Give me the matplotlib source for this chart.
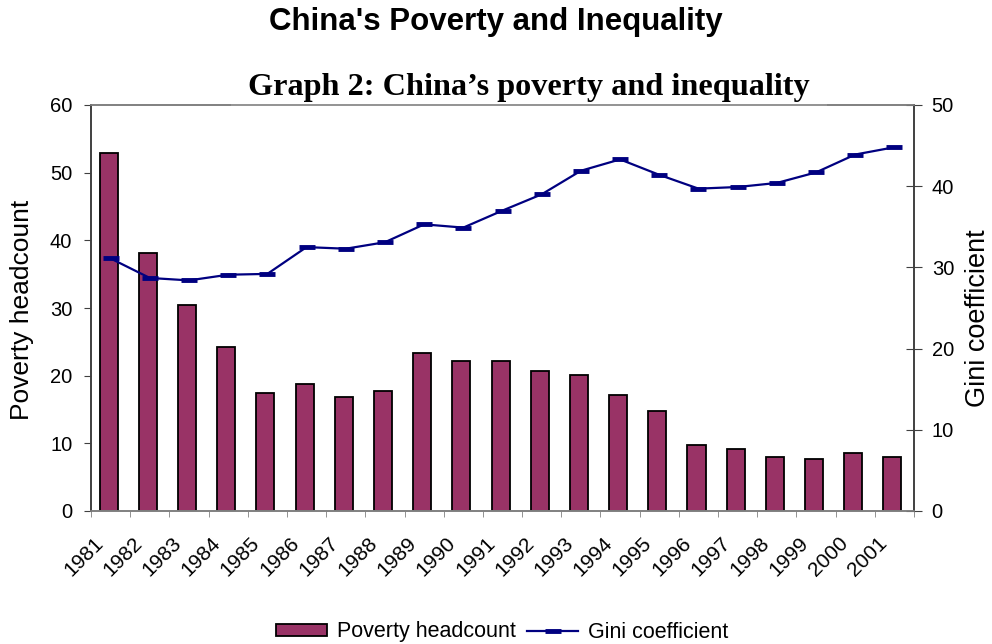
import matplotlib
matplotlib.use("Agg")
import matplotlib.pyplot as plt
import numpy as np
from matplotlib.patches import Patch
from matplotlib.lines import Line2D

years = ["1981", "1982", "1983", "1984", "1985", "1986", "1987", "1988", "1989", "1990",
         "1991", "1992", "1993", "1994", "1995", "1996", "1997", "1998", "1999", "2000", "2001"]
poverty = [52.9, 38.1, 30.4, 24.2, 17.5, 18.7, 16.9, 17.7, 23.3, 22.2,
           22.2, 20.7, 20.1, 17.1, 14.8, 9.75, 9.2, 8.0, 7.7, 8.6, 8.0]
gini = [31.1, 28.7, 28.4, 29.1, 29.2, 32.5, 32.3, 33.1, 35.3, 34.9,
        37.0, 39.0, 41.9, 43.3, 41.4, 39.7, 39.9, 40.4, 41.7, 43.9, 44.8]

plt.rcParams['font.family'] = ['Liberation Sans', 'DejaVu Sans']

fig = plt.figure(figsize=(9.92, 6.44), dpi=100)
ax = fig.add_axes([91/992, 1-511/644, (914-91)/992, (511-105)/644])
ax2 = ax.twinx()

x = np.arange(len(years))
bar_color = '#993366'
line_color = '#000080'
ax.bar(x - 0.05, poverty, width=0.46, color=bar_color, edgecolor='black', linewidth=1.3, zorder=2)
ax2.plot(x, gini, color=line_color, linewidth=1.6, marker='_', markersize=11,
         markeredgewidth=3.5, zorder=3)

ax.set_xlim(-0.5, len(years) - 0.5)
ax.set_ylim(0, 60)
ax2.set_ylim(0, 50)
ax.set_yticks(range(0, 61, 10))
ax2.set_yticks(range(0, 51, 10))

# label anchors sit left of each category centre, as in the reference
ax.set_xticks(x - 0.44)
ax.set_xticklabels(years, rotation=45, ha='right', va='top', rotation_mode='anchor', fontsize=15)
ax.set_xticks(np.arange(-0.5, len(years), 1), minor=True)
ax.tick_params(axis='x', which='major', length=0, pad=16)
ax.tick_params(axis='x', which='minor', length=4.5, color='#808080', direction='out')
ax.tick_params(axis='y', labelsize=14.5, length=5, color='#404040', direction='out', pad=8.5)
ax2.tick_params(axis='y', labelsize=14.5, length=11.5, color='#404040', direction='inout', pad=7)

for a in (ax, ax2):
    for s in a.spines.values():
        s.set_color('#808080')
        s.set_linewidth(1.2)
    a.spines['left'].set_color('#404040')
    a.spines['right'].set_color('#404040')

fig.text(22/992, 1-310/644, 'Poverty headcount', rotation=90, ha='center', va='center',
         fontsize=19)
fig.text(978/992, 1-318/644, 'Gini coefficient', rotation=90, ha='center', va='center',
         fontsize=19.5)

fig.text(0.5, 1-22/644, "China's Poverty and Inequality", ha='center', va='center',
         fontsize=22.5, fontweight='bold')
ax.text(529/992, 1-87/644, "Graph 2: China\u2019s poverty and inequality", transform=fig.transFigure,
        ha='center', va='center', fontsize=23.2, fontweight='bold', family='Liberation Serif',
        bbox=dict(facecolor='white', edgecolor='none', pad=12), zorder=10, clip_on=False)

handles = [Patch(facecolor=bar_color, edgecolor='black', linewidth=1.3),
           Line2D([], [], color=line_color, linewidth=1.6, marker='_', markersize=11, markeredgewidth=3.5)]
fig.legend(handles, ['Poverty headcount', 'Gini coefficient'], loc='center',
           bbox_to_anchor=(502/992, 1-632/644), ncol=2, frameon=False, fontsize=15.5,
           handlelength=2.4, handleheight=0.5, handletextpad=0.45, columnspacing=0.5)

fig.savefig('out.png', dpi=100)
